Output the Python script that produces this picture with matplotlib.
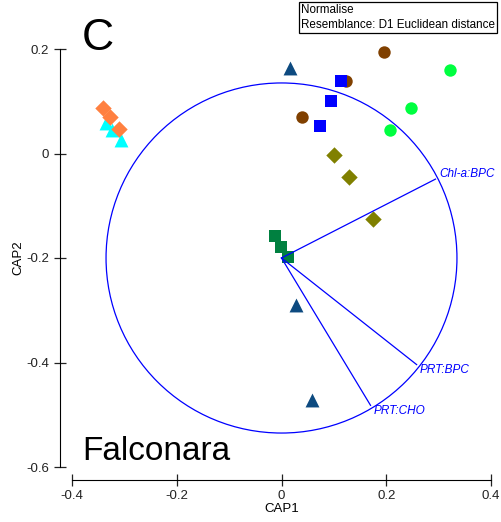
import numpy as np
import matplotlib.pyplot as plt
from matplotlib.patches import Circle

plt.rcParams['font.family'] = ['Liberation Sans', 'DejaVu Sans']

# CAP scores per group (CAP1, CAP2)
orange_x = [-0.340, -0.327, -0.311]
orange_y = [0.087, 0.070, 0.047]
cyan_x = [-0.335, -0.323, -0.306]
cyan_y = [0.058, 0.045, 0.026]
navy_x = [0.017, 0.028, 0.058]
navy_y = [0.163, -0.289, -0.471]
brown_x = [0.196, 0.124, 0.039]
brown_y = [0.195, 0.138, 0.070]
blue_x = [0.113, 0.094, 0.073]
blue_y = [0.138, 0.100, 0.052]
green_x = [0.322, 0.248, 0.207]
green_y = [0.160, 0.088, 0.045]
olive_x = [0.100, 0.128, 0.174]
olive_y = [-0.003, -0.045, -0.126]
dkgreen_x = [-0.013, -0.001, 0.013]
dkgreen_y = [-0.158, -0.179, -0.198]

# vector overlay (relative to circle centre)
vec_names = ['Chl-a:BPC', 'PRT:BPC', 'PRT:CHO']
vec_dx = [0.294, 0.258, 0.170]
vec_dy = [0.151, -0.204, -0.282]
centre = (0.0, -0.2)
radius = 0.335

fig = plt.figure(figsize=(5.02, 5.22), dpi=100)
ax = fig.add_axes([72 / 502, 55 / 522, 419 / 502, 418 / 522])
ax.set_xlim(-0.4, 0.4)
ax.set_ylim(-0.6, 0.2)

ax.add_patch(Circle(centre, radius, fill=False, edgecolor='#0000ff', lw=0.9, clip_on=False))

kw = dict(clip_on=False, linewidths=0, zorder=3)
ax.scatter(brown_x, brown_y, s=80, marker='o', color='#804000', **kw)
ax.scatter(blue_x, blue_y, s=85, marker='s', color='#0000ff', **kw)
ax.scatter(green_x, green_y, s=80, marker='o', color='#00ff40', **kw)
ax.scatter(olive_x, olive_y, s=70, marker='D', color='#808000', **kw)
ax.scatter(dkgreen_x, dkgreen_y, s=85, marker='s', color='#008040', **kw)
ax.scatter(navy_x, navy_y, s=100, marker='^', color='#0d4a80', **kw)
ax.scatter(cyan_x, cyan_y, s=100, marker='^', color='#00ffff', **kw)
ax.scatter(orange_x, orange_y, s=70, marker='D', color='#ff8040', **kw)

offsets = [(3, 4), (2, -4), (2, -4)]
for name, dx, dy, off in zip(vec_names, vec_dx, vec_dy, offsets):
    ex, ey = centre[0] + dx, centre[1] + dy
    ax.plot([centre[0], ex], [centre[1], ey], color='#0000ff', lw=0.9, zorder=4)
    ax.annotate(name, (ex, ey), xytext=off, textcoords='offset points',
                fontsize=8.5, style='italic', color='#0000ff',
                ha='left', va='center')

for side in ['top', 'right']:
    ax.spines[side].set_visible(False)
ax.spines['left'].set_position(('outward', 9))
ax.spines['bottom'].set_position(('outward', 9))
ax.set_xticks([-0.4, -0.2, 0, 0.2, 0.4])
ax.set_xticklabels(['-0.4', '-0.2', '0', '0.2', '0.4'])
ax.set_yticks([-0.6, -0.4, -0.2, 0, 0.2])
ax.set_yticklabels(['-0.6', '-0.4', '-0.2', '0', '0.2'])
ax.tick_params(direction='inout', length=8, width=0.9, labelsize=9.5, colors='#222222')
ax.set_xlabel('CAP1', fontsize=9.5, labelpad=1)
ax.set_ylabel('CAP2', fontsize=9.5, labelpad=1)

fig.text(82 / 502, 1 - 50 / 522, 'C', fontsize=32, ha='left', va='baseline')
fig.text(82 / 502, 1 - 460 / 522, 'Falconara', fontsize=24, ha='left', va='baseline')
fig.text(301 / 502, 1 - 4 / 522, 'Normalise\nResemblance: D1 Euclidean distance',
         fontsize=8.4, ha='left', va='top', linespacing=1.35,
         bbox=dict(boxstyle='square,pad=0.2', facecolor='white', edgecolor='black', lw=0.9))

fig.savefig('out.png', dpi=100)
